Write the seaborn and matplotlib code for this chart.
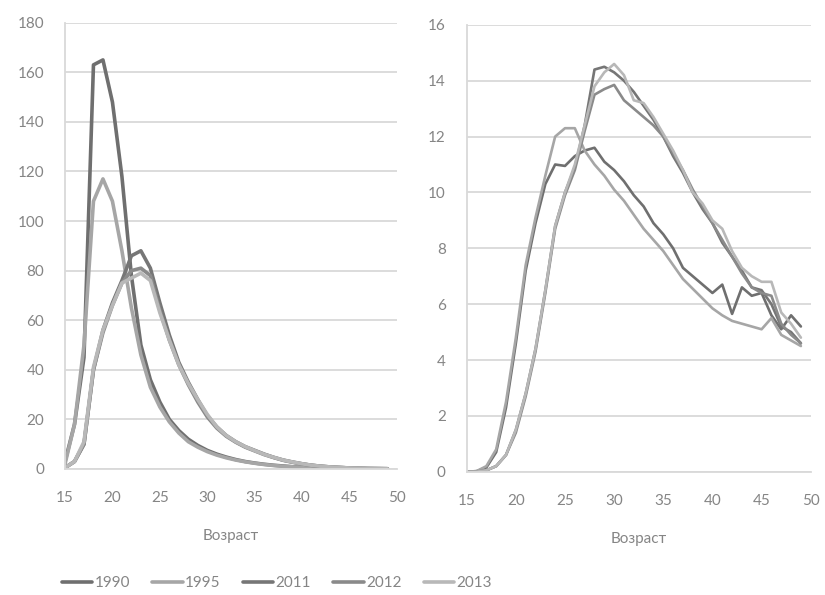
import matplotlib
matplotlib.use("Agg")
import matplotlib.pyplot as plt
import seaborn as sns
import pandas as pd

ages = list(range(15, 50))
years = ["1990", "1995", "2011", "2012", "2013"]
colors = ["#6f6f6f", "#a6a6a6", "#767676", "#8a8a8a", "#b8b8b8"]

# left panel: age-specific rates
left_1990 = [3, 18, 45, 163, 165, 148, 118, 78, 50, 36, 27, 20, 15.5, 12, 9.5,
             7.5, 6, 4.8, 3.8, 3, 2.4, 1.9, 1.5, 1.2, 0.9, 0.7, 0.5, 0.35, 0.25,
             0.2, 0.15, 0.1, 0.07, 0.05, 0.03]
left_1995 = [2, 18, 50, 108, 117, 108, 88, 65, 46, 33, 25, 19, 14.5, 11, 8.8,
             7, 5.6, 4.5, 3.6, 2.9, 2.3, 1.8, 1.4, 1.1, 0.85, 0.65, 0.45, 0.3,
             0.22, 0.16, 0.12, 0.08, 0.06, 0.04, 0.02]
left_2011 = [0.5, 3, 10, 40, 56, 67, 76, 86, 88, 81, 67, 54, 43, 35, 28, 21.5,
             17, 13.5, 11, 9, 7.5, 6, 4.7, 3.6, 2.8, 2.1, 1.5, 1.1, 0.8, 0.6,
             0.4, 0.3, 0.2, 0.15, 0.1]
left_2012 = [0.5, 3, 10, 40, 55, 66, 75, 80, 81, 78, 64, 52, 42, 34, 27, 21,
             16.5, 13.2, 10.8, 8.8, 7.3, 5.8, 4.6, 3.5, 2.7, 2, 1.5, 1.1, 0.8,
             0.6, 0.4, 0.3, 0.2, 0.15, 0.1]
left_2013 = [0.5, 3, 11, 41, 56, 66, 75, 77, 79, 76, 63, 52, 42, 34.5, 28, 22,
             17, 13.5, 11, 9, 7.4, 5.9, 4.7, 3.6, 2.8, 2.1, 1.5, 1.1, 0.8, 0.6,
             0.4, 0.3, 0.2, 0.15, 0.1]

# right panel
right_1990 = [0, 0.02, 0.15, 0.7, 2.3, 4.6, 7.2, 8.9, 10.3, 11.0, 10.95, 11.3,
              11.5, 11.6, 11.1, 10.8, 10.4, 9.9, 9.5, 8.9, 8.5, 8.0, 7.3, 7.0,
              6.7, 6.4, 6.7, 5.65, 6.6, 6.3, 6.4, 5.6, 5.1, 5.6, 5.2]
right_1995 = [0, 0.02, 0.2, 0.8, 2.5, 4.8, 7.4, 9.1, 10.6, 12.0, 12.3, 12.3,
              11.5, 11.0, 10.6, 10.1, 9.7, 9.2, 8.7, 8.3, 7.9, 7.4, 6.9, 6.55,
              6.2, 5.85, 5.6, 5.4, 5.3, 5.2, 5.1, 5.5, 4.9, 4.7, 4.5]
right_2011 = [0, 0, 0.05, 0.2, 0.6, 1.5, 2.8, 4.4, 6.5, 8.8, 10.0, 10.9, 12.4,
              14.4, 14.5, 14.3, 14.0, 13.6, 13.1, 12.6, 12.0, 11.3, 10.7, 10.0,
              9.4, 8.9, 8.2, 7.7, 7.2, 6.6, 6.5, 6.0, 5.2, 5.0, 4.6]
right_2012 = [0, 0, 0.05, 0.2, 0.6, 1.4, 2.7, 4.3, 6.4, 8.7, 9.9, 10.8, 12.2,
              13.5, 13.7, 13.85, 13.3, 13.0, 12.7, 12.4, 12.0, 11.4, 10.8, 10.1,
              9.5, 8.9, 8.3, 7.7, 7.1, 6.6, 6.4, 6.3, 5.3, 4.9, 4.6]
right_2013 = [0, 0, 0.05, 0.2, 0.6, 1.5, 2.8, 4.4, 6.5, 8.8, 10.0, 11.0, 12.4,
              13.8, 14.3, 14.6, 14.2, 13.3, 13.2, 12.7, 12.1, 11.5, 10.8, 10.0,
              9.6, 9.0, 8.7, 7.9, 7.3, 7.0, 6.8, 6.8, 5.7, 5.3, 4.8]

left_data = [left_1990, left_1995, left_2011, left_2012, left_2013]
right_data = [right_1990, right_1995, right_2011, right_2012, right_2013]

sns.set_style("white")
plt.rcParams['font.family'] = ['Lato', 'DejaVu Sans']

fig = plt.figure(figsize=(8.25, 5.95), dpi=100)
ax1 = fig.add_axes([0.0788, 0.2118, 0.4024, 0.750])
ax2 = fig.add_axes([0.5657, 0.2072, 0.417, 0.751])

grey_txt = "#858585"
grid_c = "#d9d9d9"


def draw(ax, series, ymax, ystep):
    for yr, vals, c in zip(years, series, colors):
        df = pd.DataFrame({"age": ages, "val": vals})
        sns.lineplot(data=df, x="age", y="val", ax=ax, color=c, lw=1.9,
                     label=yr, legend=False)
    ax.set_xlim(15, 50)
    ax.set_ylim(0, ymax)
    ax.set_xticks(range(15, 51, 5))
    ax.set_yticks(range(0, ymax + 1, ystep))
    ax.grid(axis="y", color=grid_c, lw=1.3)
    ax.set_axisbelow(True)
    for s in ["top", "right"]:
        ax.spines[s].set_visible(False)
    for s in ["left", "bottom"]:
        ax.spines[s].set_color(grid_c)
        ax.spines[s].set_linewidth(1.3)
    ax.tick_params(length=0, labelsize=11, labelcolor=grey_txt)
    ax.tick_params(axis="y", pad=15)
    ax.tick_params(axis="x", pad=16)
    ax.set_xlabel("Возраст", fontsize=11, color=grey_txt, labelpad=17)
    ax.set_ylabel("")


draw(ax1, left_data, 180, 20)
draw(ax2, right_data, 16, 2)

handles, labels = ax1.get_legend_handles_labels()
for h in handles:
    h.set_linewidth(2.6)
fig.legend(handles, labels, loc="center", bbox_to_anchor=(277 / 825, 1 - 583 / 595),
           ncol=5, frameon=False, fontsize=11, labelcolor=grey_txt,
           handlelength=2.0, handletextpad=0.15, columnspacing=1.45)

plt.savefig("out.png", dpi=100)
